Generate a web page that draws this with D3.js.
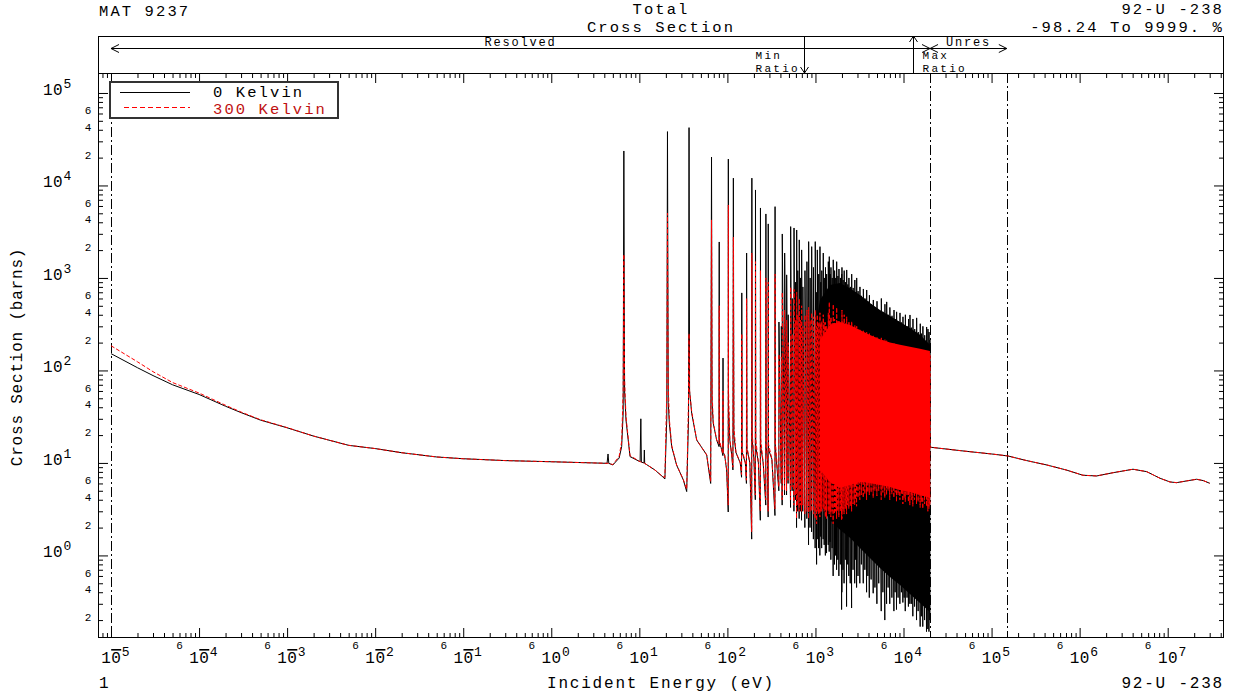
<!DOCTYPE html>
<html><head><meta charset="utf-8">
<script src="https://cdn.jsdelivr.net/npm/d3@7"></script>
<style>
html,body{margin:0;padding:0;background:#fff;}
svg{display:block;}
text{font-family:"Liberation Mono","DejaVu Sans Mono",monospace;}
</style></head><body>
<svg id="chart" width="1238" height="695"></svg>
<script>
// ---------------- DATA ----------------
const xDomain = [7.12e-6, 4.36e7];
const yDomain = [0.128, 1.644e5];

// Smooth + isolated resonance region (eV, barns)
const lowE = [1e-5,2e-5,3e-5,5e-5,1e-4,2e-4,3e-4,5e-4,1e-3,2e-3,5e-3,1e-2,2e-2,5e-2,0.1,0.3,1,3,
  4.3,4.41,4.5,5.0,5.9,6.3,6.55,6.67,6.8,7.05,7.84,10.2,10.4,10.55,11.3,11.4,11.5,15,18.5,19.5,
  20.5,20.87,21.3,21.9,23.3,26.5,31.6,34.5,36.2,36.68,37.2,39.3,44.8,58.2,64.6,66.03,67,69.0,75.5,
  80.4,80.75,81.1,85,88.9,89.2,89.5,93,98,102.2,102.5,103,106.5,112,115.5,116.9,118.5,125,140,
  144.8,145.7,147,160,164.5,165.3,167,180,188.8,189.6,191,200,207.5,208.5,210,225,236.5,237.4,239,
  255,272.8,273.7,275.5,285,290.2,291,293,320,346.8,347.8,350];
const low0 = [152,107,88,70,55,41,35,29,24,19.5,15.5,14.3,12.9,11.6,11.1,10.6,10.3,10.0,
  9.9,12.5,9.9,9.5,11.3,15.0,34.7,23600,60,29.2,11.7,10.3,30,10.2,10.0,13.8,9.9,8.4,7.06,6.7,
  30,38200,45,26.9,15.0,9.5,6.55,4.9,30,42200,60,34.5,17.7,12.2,6.0,20300,45,26.9,17.7,
  15,2450,16,14.6,12,136,13,12.2,8.4,2.95,19300,40,17.7,12.2,8.4,12000,20,13,10,
  7,689,13,10,6,1860,14,10,1.5,12000,18,11,4,8940,15,10,2.4,5710,15,
  10,3.5,4920,15,11,2.6,3840,14,11,2.7,5900,15];
const low300 = [185,124,97,74,57,42,35.5,29.3,24.1,19.5,15.5,14.3,12.9,11.6,11.1,10.6,10.3,10.0,
  9.9,9.9,9.9,9.6,11.8,17,60,1800,80,32,12,10.3,10.3,10.2,10.0,10.0,9.9,8.4,7.1,7.0,
  60,5000,70,30,15.5,9.5,6.6,5.2,50,250,60,36,17.7,12.2,6.3,4240,60,28,17.7,
  16,500,18,14.6,12.5,60,13,12.2,8.6,3.5,6150,60,18,12.2,9,2770,25,13,10,
  7.5,250,14,10,6.5,600,15,10,1.8,1860,22,11,4.5,1500,18,10,3,1200,18,
  10,4,1000,18,11,3,900,16,11,3.2,1100,17];

// Dense resolved resonances (eV): peak and dip values, 0 K and 300 K
const spikeE = [385,410,420,447,471,490,523,545,571,595,612,630,655,675,697,720,760,
  800,837,870,906,950,995,1033,1050,1090,1125,1150,1180,1227,1260,1300,1340,1400,1436,1470,1500,1550,
  1593,1650,1700,1742,1800,1850,1920,1987,
  2000,2060,2120,2190,2263,2330,2400,2490,2580,2680,2800,2870,2940,3050,3200,3330,3500,3650,3818,3950,
  4100,4300,4540,4750,5000,5250,5600,5850,6150,6442,6700,7000,7400,7800,8050,8350,8700,9120,9500,9860,
  10200,10500,11000,11400,11840,12300,12800,13400,14100,14700,15500,16000,16600,17400,18300,18950,19500,19950];
const spikeTop0 = [334,300,2990,1860,1080,400,3590,600,3470,900,3300,1200,2580,1000,2010,800,1200,
  1500,2470,1000,2180,1300,2470,700,2010,1100,2180,900,1200,1860,1000,1300,1100,1500,1700,1100,1300,1000,
  1570,1200,1000,1500,1050,1250,1000,1100,
  1300,950,1200,900,1220,850,1000,800,1100,780,950,700,1000,720,800,640,760,600,741,560,
  650,520,578,480,560,450,600,430,520,551,400,480,390,450,360,430,340,419,330,380,
  310,400,300,360,398,290,360,280,370,260,320,250,300,240,295,280,260,214];
const spikeLow0 = [5,6,3.5,4.5,4.5,6,3.3,5,3,4,2,3,2.5,3,2.4,3,2,
  2.5,1.3,2,1.8,1.5,1.2,0.8,1.5,1.2,1.0,1.6,1.2,1.5,1.3,1.0,1.06,1.3,1.1,1.4,0.9,1.2,
  0.6,0.8,1.0,0.7,0.9,0.6,0.8,0.26,
  0.4,0.7,0.5,0.9,0.28,0.8,0.6,0.5,0.27,0.7,0.5,0.9,0.45,0.6,0.5,0.8,0.5,0.7,0.4,0.6,
  0.35,0.55,0.39,0.45,0.3,0.5,0.25,0.4,0.2,0.3,0.45,0.3,0.35,0.25,0.4,0.26,0.35,0.3,0.4,0.31,
  0.35,0.25,0.35,0.28,0.3,0.3,0.22,0.28,0.2,0.25,0.17,0.22,0.17,0.2,0.15,0.16,0.15,0.2];
const spikeTop300 = [150,140,700,450,350,200,800,250,750,350,700,400,600,350,500,300,400,
  450,480,350,420,380,450,300,400,330,420,320,340,400,330,330,300,420,550,350,380,330,
  520,360,330,480,340,350,320,330,
  450,330,400,320,380,300,340,290,340,280,310,270,300,260,280,250,270,245,260,240,
  250,230,240,225,230,215,225,210,215,210,200,200,195,195,185,190,182,185,178,180,
  172,182,170,175,176,165,170,162,168,158,165,155,160,152,158,156,152,150];
const spikeLow300 = [5.5,6.5,4,5,5,6.5,4,5.5,3.5,4.5,2.5,3.5,3,3.5,3,3.5,2.8,
  3,2.5,3,3,2.8,2.5,2.2,3,2.8,2.6,3,3,3.2,3,2.6,2.5,3,2.8,3,2.6,3,
  2.2,2.8,3,2.5,3,2.6,3,2.4,
  2.5,3,2.8,3.2,2.8,3.5,3.2,3.4,3,3.6,3.5,4,3.4,4.2,4,4.5,4.2,4.6,4,4.8,
  4.5,4.8,4.2,5,4.4,5,4,4.8,4.2,4.5,5,4,4.6,4.2,4.8,3.8,4.5,4,4.6,3.6,
  4.2,3.8,4.4,3.8,3.5,4,3.4,4,3.6,3.8,3.3,3.8,3.2,3.6,3.4,3.0,3.2,3.5];

// Filled envelopes of the unresolvable dense band
const band0E   = [989,1125,1462,1897,2466,3199,4159,5405,7015,9120,11830,15380,19950];
const band0Top = [274,578,840,883,775,655,537,451,388,334,288,243,189];
const band0Bot = [6.55,3.52,2.42,1.89,1.55,1.2,0.94,0.73,0.585,0.48,0.383,0.306,0.245];
const band300E   = [1125,1462,1897,2466,3199,4159,5405,7015,9120,11830,15380,19950];
const band300Top = [214,310,334,310,274,242,218,201,189,180,172,162];
const band300Bot = [8.4,6.23,5.37,5.78,6.23,6.07,5.78,5.5,5.1,4.86,4.51,4.19];

// Unresolved + fast region (same for both temperatures)
const hiE = [2.0e4,5e4,1e5,1.53e5,2.5e5,4.23e5,7e5,1.09e6,1.56e6,2.41e6,4.04e6,5.77e6,6.86e6,8.17e6,1.06e7,1.26e7,1.64e7,2.13e7,2.54e7,3.0e7];
const hiSigma = [14.8,13.4,12.5,11.9,10.6,9.51,8.4,7.36,7.23,7.85,8.55,8.05,7.42,6.83,6.23,6.12,6.39,6.66,6.44,6.03];

// Annotations and labels
const boundaryE = [1e-5, 2e4, 1.49e5];
const minRatioE = 741, maxRatioE = 12700;
const legendLabels = ["0 Kelvin", "300 Kelvin"];
const xExponents = [-5,-4,-3,-2,-1,0,1,2,3,4,5,6,7];
const yExponents = [0,1,2,3,4,5];
const yMinorLabels = [2,4,6];
const xMinorLabel = 6;

// ---------------- DRAWING ----------------
const svg = d3.select("#chart");
const P = {left:98, right:1224, top:73, bottom:638, bandTop:36};
const x = d3.scaleLog().domain(xDomain).range([P.left, P.right]);
const y = d3.scaleLog().domain(yDomain).range([P.bottom, P.top]);
const RED = "#ff0000";

svg.append("rect").attr("width",1238).attr("height",695).attr("fill","#fff");
svg.append("defs").append("clipPath").attr("id","clip")
  .append("rect").attr("x",P.left).attr("y",P.top).attr("width",P.right-P.left).attr("height",P.bottom-P.top);
const gPlot = svg.append("g").attr("clip-path","url(#clip)");

function buildSeries(lowS, spTop, spLow){
  const pts = lowE.map((e,i)=>[e, lowS[i]]);
  spikeE.forEach((e,i)=>{ pts.push([e*0.997, spLow[i]]); pts.push([e, spTop[i]]); });
  hiE.forEach((e,i)=>pts.push([e, hiSigma[i]]));
  return pts;
}
const s0 = buildSeries(low0, spikeTop0, spikeLow0);
const s300 = buildSeries(low300, spikeTop300, spikeLow300);
const line = d3.line().x(d=>x(d[0])).y(d=>y(d[1]));
const area = d3.area().x(d=>x(d[0])).y0(d=>y(d[1])).y1(d=>y(d[2]));

boundaryE.forEach(e=>{
  gPlot.append("line").attr("x1",Math.round(x(e))+0.5).attr("x2",Math.round(x(e))+0.5)
    .attr("y1",P.top).attr("y2",P.bottom).attr("stroke","#000").attr("stroke-width",1)
    .attr("stroke-dasharray","10,3,2,3");
});

gPlot.append("path").attr("d",line(s0)).attr("fill","none").attr("stroke","#000").attr("stroke-width",1);
gPlot.append("path").attr("d",area(band0E.map((e,i)=>[e,band0Bot[i],band0Top[i]]))).attr("fill","#000");
gPlot.append("path").attr("d",area(band300E.map((e,i)=>[e,band300Bot[i],band300Top[i]]))).attr("fill",RED);
gPlot.append("path").attr("d",line(s300)).attr("fill","none").attr("stroke",RED).attr("stroke-width",1)
  .attr("stroke-dasharray","4,2");

// ticks via d3 axes
const xMajor = xExponents.map(p=>Math.pow(10,p));
const xMinor = [];
for(let p=-6;p<=7;p++) for(let k=2;k<=9;k++){const v=k*Math.pow(10,p); if(v>=xDomain[0]&&v<=xDomain[1]) xMinor.push(v);}
const yMajor = yExponents.map(p=>Math.pow(10,p));
const yMinor = [];
for(let p=-1;p<=5;p++) for(let k=2;k<=9;k++){const v=k*Math.pow(10,p); if(v>=yDomain[0]&&v<=yDomain[1]) yMinor.push(v);}

function axis(gen, vals, size, tr){
  svg.append("g").attr("transform",tr)
    .call(gen.tickValues(vals).tickSize(size).tickSizeOuter(0).tickFormat(""))
    .call(g=>{g.select(".domain").remove(); g.selectAll("line").attr("stroke","#000");});
}
axis(d3.axisBottom(x), xMajor, -10, `translate(0,${P.bottom})`);
axis(d3.axisBottom(x), xMinor, -5, `translate(0,${P.bottom})`);
axis(d3.axisTop(x), xMajor, -10, `translate(0,${P.top})`);
axis(d3.axisTop(x), xMinor, -5, `translate(0,${P.top})`);
axis(d3.axisLeft(y), yMajor, -10, `translate(${P.left},0)`);
axis(d3.axisLeft(y), yMinor, -5, `translate(${P.left},0)`);
axis(d3.axisRight(y), yMajor, -10, `translate(${P.right},0)`);
axis(d3.axisRight(y), yMinor, -5, `translate(${P.right},0)`);

// frames
svg.append("rect").attr("x",P.left+0.5).attr("y",P.top+0.5).attr("width",P.right-P.left-1).attr("height",P.bottom-P.top-1)
  .attr("fill","none").attr("stroke","#000");
svg.append("rect").attr("x",P.left+0.5).attr("y",P.bandTop+0.5).attr("width",P.right-P.left-1).attr("height",P.top-P.bandTop)
  .attr("fill","none").attr("stroke","#000");

// x tick labels: "10" (negative: overline on the 0, as in the reference) + superscript exponent
xExponents.forEach(p=>{
  const tx = x(Math.pow(10,p));
  const t = svg.append("text").attr("x",tx-9.8).attr("y",663).attr("font-size",16).attr("letter-spacing",0.4).attr("fill","#000");
  t.append("tspan").text("1");
  const z = t.append("tspan").text("0");
  if(p<0) z.attr("text-decoration","overline");
  t.append("tspan").attr("dy",-7.5).attr("dx",0.5).attr("font-size",13).attr("letter-spacing",0).attr("text-decoration","none").text(Math.abs(p));
});
xExponents.forEach(p=>{
  const v = xMinorLabel*Math.pow(10,p);
  if(v<=xDomain[1]) svg.append("text").attr("x",x(v)).attr("y",649).attr("font-size",11).attr("text-anchor","middle").attr("fill","#000").text(xMinorLabel);
});
// y tick labels
yExponents.forEach(p=>{
  const ty = y(Math.pow(10,p));
  const t = svg.append("text").attr("x",43).attr("y",ty+2).attr("font-size",16).attr("letter-spacing",0.4).attr("fill","#000").text("10");
  t.append("tspan").attr("dy",-7).attr("dx",0.5).attr("font-size",13).attr("letter-spacing",0).text(p);
});
for(let p=-1;p<=4;p++) yMinorLabels.forEach(k=>{
  const v=k*Math.pow(10,p);
  if(v>=yDomain[0]&&v<=yDomain[1]) svg.append("text").attr("x",88).attr("y",y(v)+1).attr("font-size",11).attr("text-anchor","middle").attr("fill","#000").text(k);
});

// texts
const LS = 1.8;
function txt(xp,yp,s,anchor,size,ls,fill){
  return svg.append("text").attr("x",xp).attr("y",yp).attr("font-size",size||16).attr("letter-spacing",ls===undefined?LS:ls)
    .attr("text-anchor",anchor||"start").attr("fill",fill||"#000").text(s);
}
txt(99,15.5,"MAT 9237","start",15.5,2.1);
txt(661,14,"Total","middle",15.5,2.1);
txt(661,31.5,"Cross Section","middle",15.5,2.1);
txt(1224,14,"92-U -238","end",15.5,2.1);
txt(1224,31.5,"-98.24 To 9999. %","end",15.5,2.1);
txt(661,688,"Incident Energy (eV)","middle");
txt(99,688,"1");
txt(1224,688,"92-U -238","end");
svg.append("text").attr("transform","translate(22,357) rotate(-90)").attr("text-anchor","middle")
  .attr("font-family","'Liberation Sans',Arial,sans-serif").attr("font-size",16).attr("letter-spacing",0.8).attr("fill","#000")
  .text("Cross Section (barns)");

// top band annotations
const ay = 48.5;
function seg(x1,y1,x2,y2){svg.append("line").attr("x1",x1).attr("y1",y1).attr("x2",x2).attr("y2",y2).attr("stroke","#000");}
function arrowL(xp){seg(xp,ay,xp+8,ay-4);seg(xp,ay,xp+8,ay+4);}
function arrowR(xp){seg(xp,ay,xp-8,ay-4);seg(xp,ay,xp-8,ay+4);}
const xr0 = x(boundaryE[0]), xr1 = x(boundaryE[1]), xr2 = x(boundaryE[2]);
seg(xr0,ay,xr1,ay); arrowL(xr0); arrowR(xr1);
seg(xr1,ay,xr2,ay); arrowL(xr1); arrowR(xr2);
txt((xr0+xr1)/2,46,"Resolved","middle",12);
txt((xr1+xr2)/2,46,"Unres","middle",12);
const xmin = Math.round(x(minRatioE))+0.5, xmax = Math.round(x(maxRatioE))+0.5;
seg(xmin,P.bandTop,xmin,P.top); seg(xmin,P.top,xmin-4,P.top-6); seg(xmin,P.top,xmin+4,P.top-6);
seg(xmax,P.bandTop,xmax,P.top); seg(xmax,P.bandTop,xmax-4,P.bandTop+6); seg(xmax,P.bandTop,xmax+4,P.bandTop+6);
txt(xmin-49,58.5,"Min","start",11,2.3);
txt(xmin-49,71.5,"Ratio","start",11,2.3);
txt(xmax+9,58.5,"Max","start",11,2.3);
txt(xmax+9,71.5,"Ratio","start",11,2.3);

// legend
const lg = svg.append("g");
lg.append("rect").attr("x",110).attr("y",82).attr("width",228).attr("height",36).attr("fill","#fff").attr("stroke","#333").attr("stroke-width",2);
lg.append("line").attr("x1",120).attr("x2",190).attr("y1",92.5).attr("y2",92.5).attr("stroke","#000");
lg.append("line").attr("x1",124).attr("x2",190).attr("y1",107.5).attr("y2",107.5).attr("stroke",RED).attr("stroke-dasharray","5,3");
txt(213,96.5,legendLabels[0],"start",15.5,2.1);
txt(213,114,legendLabels[1],"start",15.5,2.1,"#c01010");
</script></body></html>
